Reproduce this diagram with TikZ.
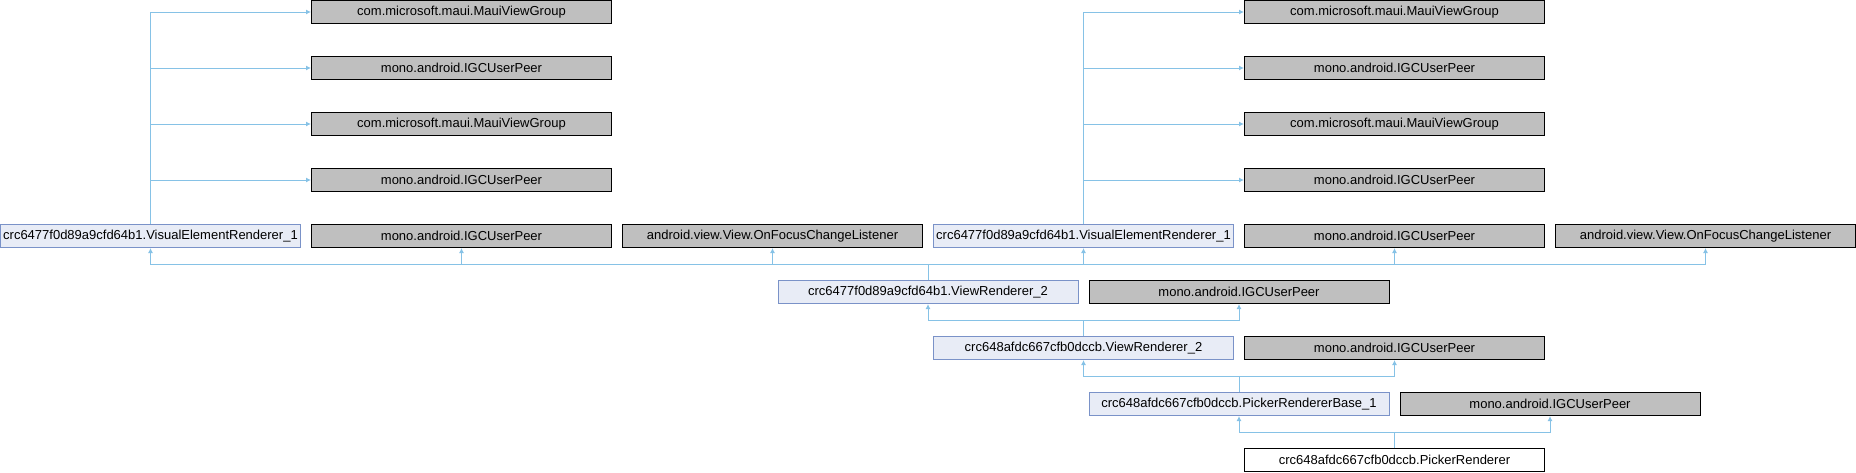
\documentclass[tikz,border=0pt]{standalone}
\usepackage{fontspec}
\setmainfont{Liberation Sans}
\usepackage{tikz}
\usetikzlibrary{arrows.meta}
\usepackage{xcolor}
\definecolor{edgeblue}{RGB}{134,194,230}
\definecolor{classfill}{RGB}{232,236,246}
\definecolor{classline}{RGB}{122,146,200}
\definecolor{extfill}{RGB}{191,191,191}

\tikzset{
    box/.style={anchor=north west, minimum width=300, minimum height=23,
        inner xsep=1, inner ysep=0, line width=1,
        font=\fontsize{13}{15}\selectfont},
    classbox/.style={box, draw=classline, fill=classfill},
    extbox/.style={box, draw=black, fill=extfill},
    leafbox/.style={box, draw=black, fill=white},
    edge/.style={draw=edgeblue, line width=1, -{Latex[length=5,width=5]}}
}

\begin{document}
\begin{tikzpicture}[x=1pt, y=-1pt]
    \useasboundingbox (0,0) rectangle (1856,472);

    % Left stack of interfaces
    \node[extbox] (maui1) at (311,0) {com.microsoft.maui.MauiViewGroup};
    \node[extbox] (peerA1) at (311,56) {mono.android.IGCUserPeer};
    \node[extbox] (maui3) at (311,112) {com.microsoft.maui.MauiViewGroup};
    \node[extbox] (peerB1) at (311,168) {mono.android.IGCUserPeer};

    % Right stack of interfaces
    \node[extbox] (maui2) at (1244,0) {com.microsoft.maui.MauiViewGroup};
    \node[extbox] (peerA2) at (1244,56) {mono.android.IGCUserPeer};
    \node[extbox] (maui4) at (1244,112) {com.microsoft.maui.MauiViewGroup};
    \node[extbox] (peerB2) at (1244,168) {mono.android.IGCUserPeer};

    % Row of bases
    \node[classbox] (vis1) at (0,224) {crc6477f0d89a9cfd64b1.VisualElementRenderer\_1};
    \node[extbox] (peer1) at (311,224) {mono.android.IGCUserPeer};
    \node[extbox] (focus1) at (622,224) {android.view.View.OnFocusChangeListener};
    \node[classbox] (vis2) at (933,224) {crc6477f0d89a9cfd64b1.VisualElementRenderer\_1};
    \node[extbox] (peer2) at (1244,224) {mono.android.IGCUserPeer};
    \node[extbox] (focus2) at (1555,224) {android.view.View.OnFocusChangeListener};

    % Chain down to the picker
    \node[classbox] (vr2a) at (777.5,280) {crc6477f0d89a9cfd64b1.ViewRenderer\_2};
    \node[extbox] (peer3) at (1088.5,280) {mono.android.IGCUserPeer};
    \node[classbox] (vr2b) at (933,336) {crc648afdc667cfb0dccb.ViewRenderer\_2};
    \node[extbox] (peer4) at (1244,336) {mono.android.IGCUserPeer};
    \node[classbox] (prbase) at (1088.5,392) {crc648afdc667cfb0dccb.PickerRendererBase\_1};
    \node[extbox] (peer5) at (1399.5,392) {mono.android.IGCUserPeer};
    \node[leafbox] (picker) at (1244,448) {crc648afdc667cfb0dccb.PickerRenderer};

    % VisualElementRenderer_1 -> interfaces
    \draw[edge] (vis1.north) |- (maui1.west);
    \draw[edge] (vis1.north) |- (peerA1.west);
    \draw[edge] (vis1.north) |- (maui3.west);
    \draw[edge] (vis1.north) |- (peerB1.west);
    \draw[edge] (vis2.north) |- (maui2.west);
    \draw[edge] (vis2.north) |- (peerA2.west);
    \draw[edge] (vis2.north) |- (maui4.west);
    \draw[edge] (vis2.north) |- (peerB2.west);

    % ViewRenderer_2 (crc6477) -> row of bases
    \draw[edge] (vr2a.north) -- ++(0,-16) -| (vis1.south);
    \draw[edge] (vr2a.north) -- ++(0,-16) -| (peer1.south);
    \draw[edge] (vr2a.north) -- ++(0,-16) -| (focus1.south);
    \draw[edge] (vr2a.north) -- ++(0,-16) -| (vis2.south);
    \draw[edge] (vr2a.north) -- ++(0,-16) -| (peer2.south);
    \draw[edge] (vr2a.north) -- ++(0,-16) -| (focus2.south);

    % ViewRenderer_2 (crc648)
    \draw[edge] (vr2b.north) -- ++(0,-16) -| (vr2a.south);
    \draw[edge] (vr2b.north) -- ++(0,-16) -| (peer3.south);

    % PickerRendererBase_1
    \draw[edge] (prbase.north) -- ++(0,-16) -| (vr2b.south);
    \draw[edge] (prbase.north) -- ++(0,-16) -| (peer4.south);

    % PickerRenderer
    \draw[edge] (picker.north) -- ++(0,-16) -| (prbase.south);
    \draw[edge] (picker.north) -- ++(0,-16) -| (peer5.south);
\end{tikzpicture}
\end{document}
